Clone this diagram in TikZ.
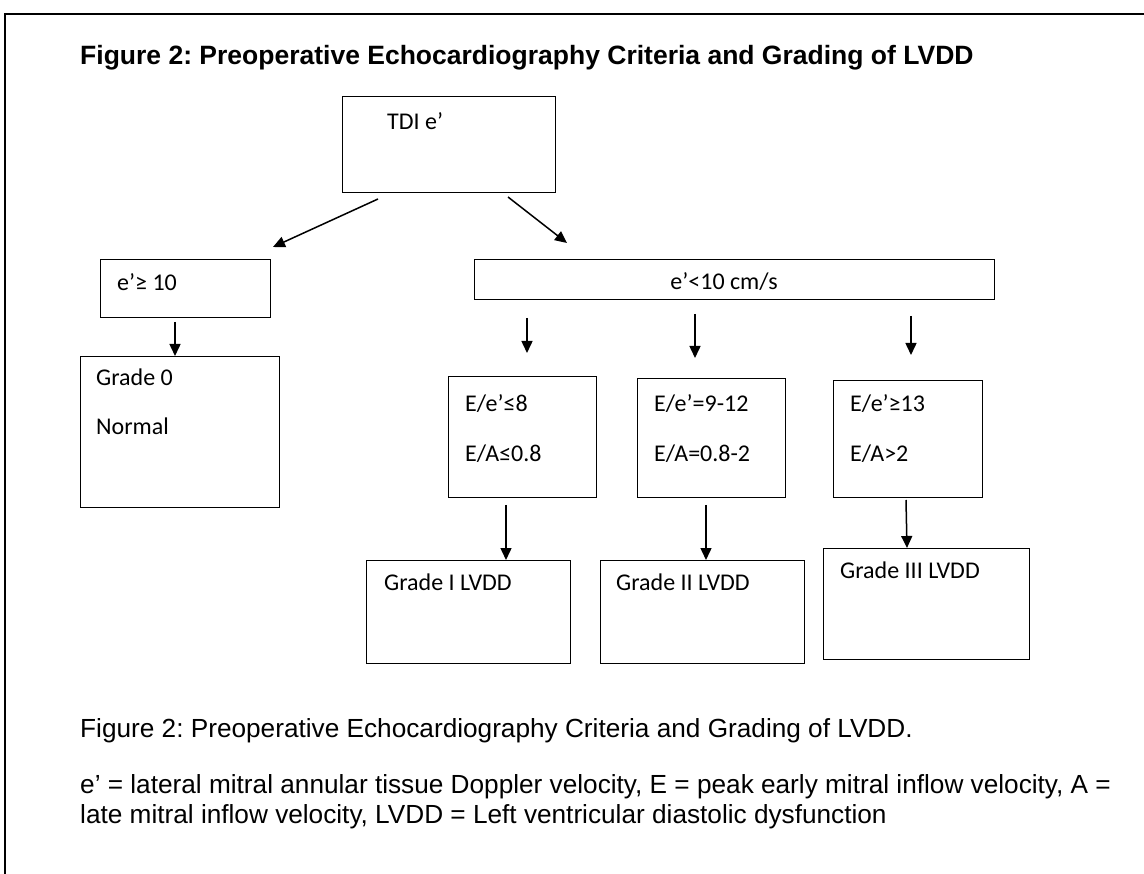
\documentclass[tikz,border=0pt]{standalone}
\usepackage{fontspec}
\setmainfont{Liberation Sans}
\newfontfamily\boxfont{Carlito}
\usetikzlibrary{arrows.meta}
\frenchspacing

\begin{document}
\begin{tikzpicture}[x=1pt,y=-1pt,
                    box/.style={draw,line width=1.4pt,anchor=north west,inner sep=0pt},
                    box text/.style={font=\boxfont\fontsize{24}{28}\selectfont,anchor=base west,inner sep=0pt},
                    caption/.style={font=\fontsize{26.2}{30}\selectfont,anchor=base west,inner sep=0pt},
                    arrow/.style={line width=1.5pt,-{Triangle[length=12pt,width=11pt]}}]
    \path[use as bounding box] (0,0) rectangle (1144,874);

    % frame
    \draw[line width=2pt] (5,874) -- (5,14) -- (1144,14);

    \node[caption,font=\bfseries\fontsize{26.5}{30}\selectfont] (title) at (80,65)
        {Figure 2: Preoperative Echocardiography Criteria and Grading of LVDD};

    % boxes
    \node[box,minimum width=213pt,minimum height=96pt] (tdi) at (342,96) {};
    \node[box,minimum width=170pt,minimum height=58pt] (high) at (100,259) {};
    \node[box,minimum width=199pt,minimum height=151pt] (grade0) at (80,356) {};
    \node[box,minimum width=520pt,minimum height=40pt] (low) at (474,259) {};
    \node[box,minimum width=148pt,minimum height=121pt] (crit1) at (448,376) {};
    \node[box,minimum width=148pt,minimum height=119pt] (crit2) at (637,378) {};
    \node[box,minimum width=149pt,minimum height=117pt] (crit3) at (833,380) {};
    \node[box,minimum width=204pt,minimum height=103pt] (grade1) at (366,560) {};
    \node[box,minimum width=204pt,minimum height=103pt] (grade2) at (600,560) {};
    \node[box,minimum width=206pt,minimum height=111pt] (grade3) at (823,548) {};

    % box texts
    \node[box text] (tdi label) at (387,130) {TDI e’};
    \node[box text] (high label) at (117,291) {e’≥ 10};
    \node[box text] (grade0 label) at (96,386) {Grade 0};
    \node[box text] (normal label) at (96,435) {Normal};
    \node[box text,anchor=base] (low label) at (724,290) {e’<10 cm/s};
    \node[box text] (crit1 e) at (465,412) {E/e’≤8};
    \node[box text] (crit1 a) at (465,462) {E/A≤0.8};
    \node[box text] (crit2 e) at (654,412) {E/e’=9-12};
    \node[box text] (crit2 a) at (654,462) {E/A=0.8-2};
    \node[box text] (crit3 e) at (850,412) {E/e’≥13};
    \node[box text] (crit3 a) at (850,462) {E/A>2};
    \node[box text] (grade1 label) at (384,590) {Grade I LVDD};
    \node[box text] (grade2 label) at (616,590) {Grade II LVDD};
    \node[box text] (grade3 label) at (840,578) {Grade III LVDD};

    % arrows
    \coordinate (tdi left) at (378,199);
    \coordinate (tdi left end) at (273,247);
    \coordinate (tdi right) at (508,197);
    \coordinate (tdi right end) at (567,243);
    \coordinate (high out) at (175,322);
    \coordinate (low out1) at (527,318);
    \coordinate (low end1) at (527,353);
    \coordinate (low out2) at (695,314);
    \coordinate (low end2) at (695,358);
    \coordinate (low out3) at (911,316);
    \coordinate (low end3) at (911,355);
    \coordinate (crit1 out) at (506,505);
    \coordinate (crit2 out) at (706,505);
    \coordinate (crit3 out) at (906,500);

    \draw[arrow] (tdi left) -- (tdi left end);
    \draw[arrow] (tdi right) -- (tdi right end);
    \draw[arrow] (high out) -- ([xshift=95pt]grade0.north west);
    \draw[arrow] (low out1) -- (low end1);
    \draw[arrow] (low out2) -- (low end2);
    \draw[arrow] (low out3) -- (low end3);
    \draw[arrow] (crit1 out) -- ([xshift=140pt]grade1.north west);
    \draw[arrow] (crit2 out) -- ([xshift=106pt]grade2.north west);
    \draw[arrow] (crit3 out) -- ([xshift=84pt]grade3.north west);

    % caption
    \node[caption] (caption) at (80,737)
        {Figure 2: Preoperative Echocardiography Criteria and Grading of LVDD.};
    \node[caption] (legend top) at (80,793)
        {e’ = lateral mitral annular tissue Doppler velocity, E = peak early mitral inflow velocity, A =};
    \node[caption] (legend bottom) at (80,823)
        {late mitral inflow velocity, LVDD = Left ventricular diastolic dysfunction};
\end{tikzpicture}
\end{document}
